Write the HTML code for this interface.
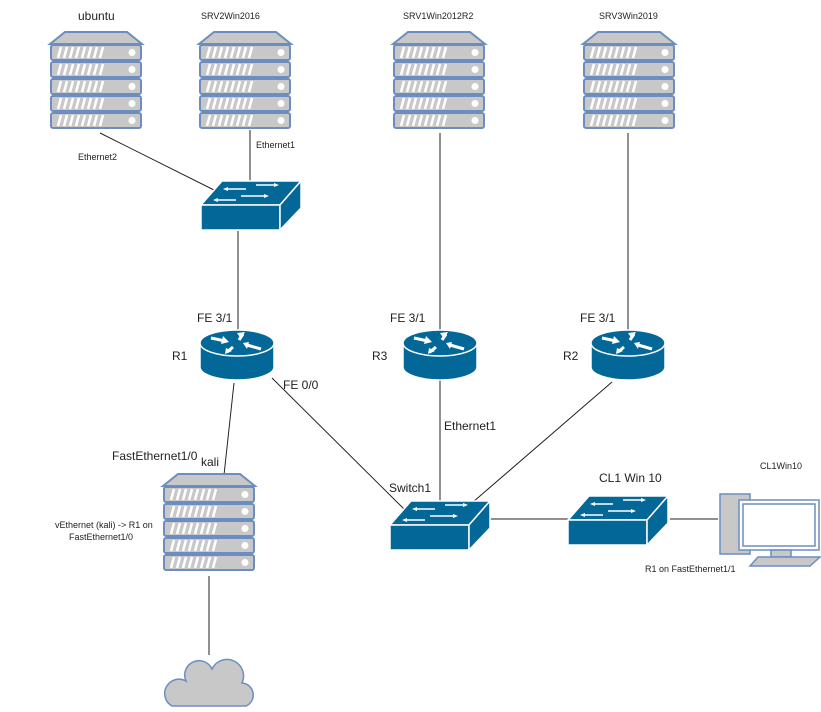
<!DOCTYPE html>
<html><head><style>body{margin:0;background:#fff}svg{display:block}text{font-family:"Liberation Sans",sans-serif;fill:#222}</style></head><body>
<svg width="821" height="712" viewBox="0 0 821 712" xmlns="http://www.w3.org/2000/svg">
<defs>
<g id="srv">
<polygon points="15,0 77,0 92,12 0,12" fill="#c8c8c8" stroke="#6c8ebf" stroke-width="2"/>
<g id="u"><rect x="1" y="13" width="90" height="15" rx="2" fill="#c8c8c8" stroke="#6c8ebf" stroke-width="2"/>
<path d="M8,26 l3,-11 M14,26 l3,-11 M20,26 l3,-11 M26,26 l3,-11 M32,26 l3,-11 M38,26 l3,-11 M44,26 l3,-11 M50,26 l3,-11" stroke="#fff" stroke-width="2.5"/>
<circle cx="82" cy="20.5" r="3.5" fill="#fff"/></g>
<use href="#u" y="17"/><use href="#u" y="34"/><use href="#u" y="51"/><use href="#u" y="68"/>
</g>
<g id="sw">
<polygon points="0,25 21,1 100,1 79,25" fill="#036897" stroke="#fff" stroke-width="1.5"/>
<rect x="0" y="25" width="79" height="25" fill="#036897" stroke="#fff" stroke-width="1.5"/>
<polygon points="79,25 100,1 100,28 79,50" fill="#036897" stroke="#fff" stroke-width="1.5"/>
<path d="M25,9 h20 M55,5 h20 M40,16 h25 M15,20 h20" stroke="#fff" stroke-width="1.5"/>
<path d="M22,9 l5,-2 v4z M78,5 l-5,-2 v4z M68,16 l-5,-2 v4z M12,20 l5,-2 v4z" fill="#fff"/>
</g>
<g id="rt">
<path d="M-37,13 v24 a37,13 0 0 0 74,0 v-24z" fill="#036897" stroke="#fff" stroke-width="1.5"/>
<ellipse cx="0" cy="13" rx="37" ry="13" fill="#036897" stroke="#fff" stroke-width="1.5"/>
<path d="M-26,8 l14,3 M6,4 l-4,6 M24,19 l-14,-4 M-4,17 l-6,5" stroke="#fff" stroke-width="3"/>
<path d="M-8,12 l-6,-6 l-2,8z M0,3 l8,-1 l-4,7z M6,13 l4,6 l2,-7z M-12,24 l1,-6 l6,3z" fill="#fff"/>
</g>
</defs>
<g stroke="#222" stroke-width="1" fill="none">
<path d="M100,133 L218,192 M250,130 V182 M238,231 V330 M234,383 L224,475 M272,378 L405,510 M440,380 V505 M612,382 L473,502 M440,133 V332 M628,133 V332 M490,519 H568 M670,519 H718 M209,576 V655"/>
</g>
<use href="#srv" x="50" y="32"/><use href="#srv" x="199" y="32"/><use href="#srv" x="393" y="32"/><use href="#srv" x="583" y="32"/><use href="#srv" x="163" y="474"/>
<use href="#sw" x="201" y="180"/><use href="#sw" x="390" y="500"/><use href="#sw" x="568" y="495"/>
<use href="#rt" x="237" y="330"/><use href="#rt" x="440" y="330"/><use href="#rt" x="628" y="330"/>
<g fill="#c8c8c8" stroke="#6c8ebf" stroke-width="1.5">
<rect x="720" y="494" width="30" height="60"/>
<rect x="739" y="500" width="80" height="50" fill="#fff"/>
<rect x="743" y="504" width="72" height="42" fill="#fff" stroke="#6c8ebf"/>
<rect x="771" y="550" width="20" height="7"/>
<polygon points="750,566 810,566 820,557 758,557"/>
</g>
<path d="M172,706 h74 a12,12 0 0 0 -4,-23 a16,16 0 0 0 -30,-14 a14,14 0 0 0 -26,12 a12,12 0 0 0 -14,25z" fill="#c8c8c8" stroke="#6c8ebf" stroke-width="1.5"/>
<g font-size="12">
<text x="78" y="20">ubuntu</text>
<text x="197" y="322">FE 3/1</text><text x="390" y="322">FE 3/1</text><text x="580" y="322">FE 3/1</text>
<text x="172" y="360">R1</text><text x="372" y="360">R3</text><text x="563" y="360">R2</text>
<text x="283" y="389">FE 0/0</text><text x="444" y="430">Ethernet1</text>
<text x="112" y="460">FastEthernet1/0</text><text x="201" y="466">kali</text>
<text x="389" y="492">Switch1</text><text x="599" y="482">CL1 Win 10</text>
</g>
<g font-size="9">
<text x="201" y="19">SRV2Win2016</text><text x="403" y="19">SRV1Win2012R2</text><text x="599" y="19">SRV3Win2019</text>
<text x="78" y="160">Ethernet2</text><text x="256" y="148">Ethernet1</text>
<text x="760" y="469">CL1Win10</text><text x="645" y="572">R1 on FastEthernet1/1</text>
<text x="55" y="528">vEthernet (kali) -&gt; R1 on</text><text x="69" y="540">FastEthernet1/0</text>
</g>
</svg>
</body></html>
